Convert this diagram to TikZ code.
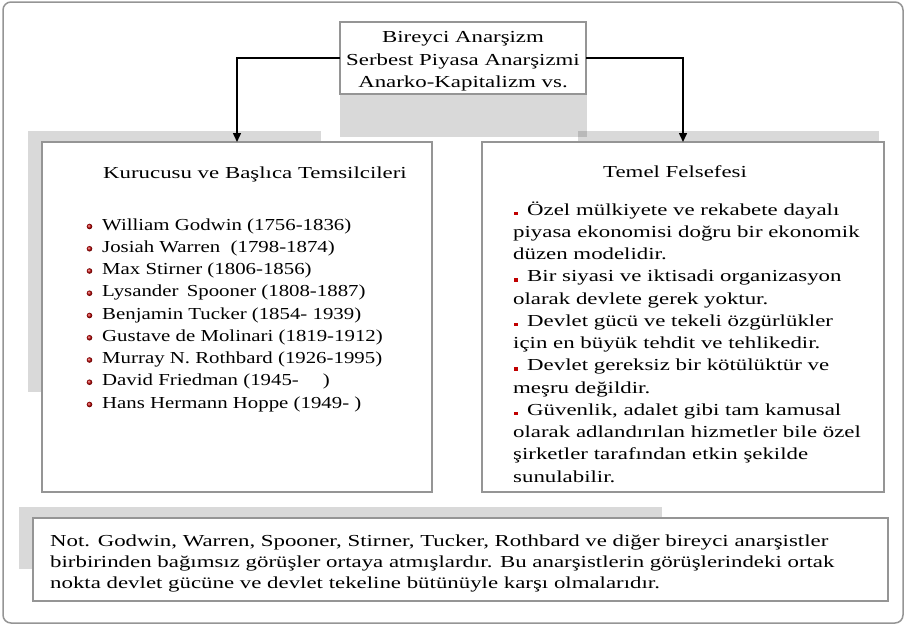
\documentclass[tikz,border=0pt]{standalone}
\usepackage{fontspec}
\setmainfont{Liberation Serif}[FakeStretch=1.36]
\newfontfamily\listfont{Liberation Serif}[FakeStretch=1.24]
\usetikzlibrary{arrows.meta}
\definecolor{boxgray}{HTML}{959595}
\definecolor{bulred}{HTML}{C00000}
\tikzset{
  frame/.style={draw=boxgray, line width=1.5pt, rounded corners=8pt},
  shadowbox/.style={fill=black, fill opacity=0.15},
  box/.style={draw=boxgray, line width=1.5pt, fill=white, anchor=north west, inner sep=0pt, outer sep=0pt},
  txt/.style={inner sep=0pt, anchor=base west, font=\fontsize{16.8}{22}\selectfont},
  ltxt/.style={txt, font=\listfont\fontsize{16.8}{22}\selectfont},
  ctxt/.style={txt, anchor=base},
  conn/.style={line width=1.5pt, -{Triangle[width=8pt,length=9pt]}},
}
\begin{document}
\begin{tikzpicture}[x=1pt,y=-1pt]
\useasboundingbox (0,0) rectangle (906,625);
% outer frame
\draw[frame] (3,2) rectangle (903,623);
% shadows
\fill[shadowbox] (340,22) rectangle (587,137);
\fill[shadowbox] (28,131) rectangle (321,392);
\fill[shadowbox] (578,131) rectangle (879,200);
\fill[shadowbox] (19,507) rectangle (662,569);
% boxes
\node[box, minimum width=246pt, minimum height=72pt] (top) at (340,22) {};
\node[box, minimum width=390pt, minimum height=350pt] (lbox) at (42,142) {};
\node[box, minimum width=402pt, minimum height=350pt] (rbox) at (482,142) {};
\node[box, minimum width=855pt, minimum height=83pt] (nbox) at (33,518) {};
% connectors
\draw[conn] (top.west) -| (lbox.north);
\draw[conn] (top.east) -| (rbox.north);
% top text
\node[ctxt] (t1) at (463,42.7) {Bireyci Anarşizm};
\node[ctxt] (t2) at (463,65) {Serbest Piyasa Anarşizmi};
\node[ctxt] (t3) at (463,87) {Anarko-Kapitalizm vs.};
% titles
\node[txt] (ltitle) at (103,178) {Kurucusu ve Başlıca Temsilcileri};
\node[txt] (rtitle) at (603,177) {Temel Felsefesi};
% left list
\foreach \t [count=\i] in {
  {William Godwin (1756-1836)},
  {Josiah Warren\ \ (1798-1874)},
  {Max Stirner (1806-1856)},
  {Lysander\hspace{3pt} Spooner (1808-1887)},
  {Benjamin Tucker (1854- 1939)},
  {Gustave de Molinari (1819-1912)},
  {Murray N. Rothbard (1926-1995)},
  {David Friedman (1945-\hspace{24pt})},
  {Hans Hermann Hoppe (1949- )}}{
  \pgfmathsetmacro{\yy}{230+(\i-1)*22.25}
  \node[ltxt] (l\i) at (102,\yy) {\t};
  \shade[ball color=bulred] (89.5,\yy-3.5) circle (2.8);
}
% right list
\foreach \x/\t [count=\i] in {
  527/{Özel mülkiyete ve rekabete dayalı},
  513/{piyasa ekonomisi doğru bir ekonomik},
  513/{düzen modelidir.},
  527/{Bir siyasi ve iktisadi organizasyon},
  513/{olarak devlete gerek yoktur.},
  527/{Devlet gücü ve tekeli özgürlükler},
  513/{için en büyük tehdit ve tehlikedir.},
  527/{Devlet gereksiz bir kötülüktür ve},
  513/{meşru değildir.},
  527/{Güvenlik, adalet gibi tam kamusal},
  513/{olarak adlandırılan hizmetler bile özel},
  513/{şirketler tarafından etkin şekilde},
  513/{sunulabilir.}}{
  \pgfmathsetmacro{\yy}{215+(\i-1)*22.25}
  \node[txt] (r\i) at (\x,\yy) {\t};
}
\foreach \i in {1,4,6,8,10}{
  \pgfmathsetmacro{\yy}{215+(\i-1)*22.25}
  \fill[bulred] (513.5,\yy) rectangle (518,\yy-3.5);
}
% note text
\node[txt] (n1) at (50,546) {Not. Godwin, Warren, Spooner, Stirner, Tucker, Rothbard ve diğer bireyci anarşistler};
\node[txt] (n2) at (50,567) {birbirinden bağımsız görüşler ortaya atmışlardır. Bu anarşistlerin görüşlerindeki ortak};
\node[txt] (n3) at (50,588) {nokta devlet gücüne ve devlet tekeline bütünüyle karşı olmalarıdır.};
\end{tikzpicture}
\end{document}
